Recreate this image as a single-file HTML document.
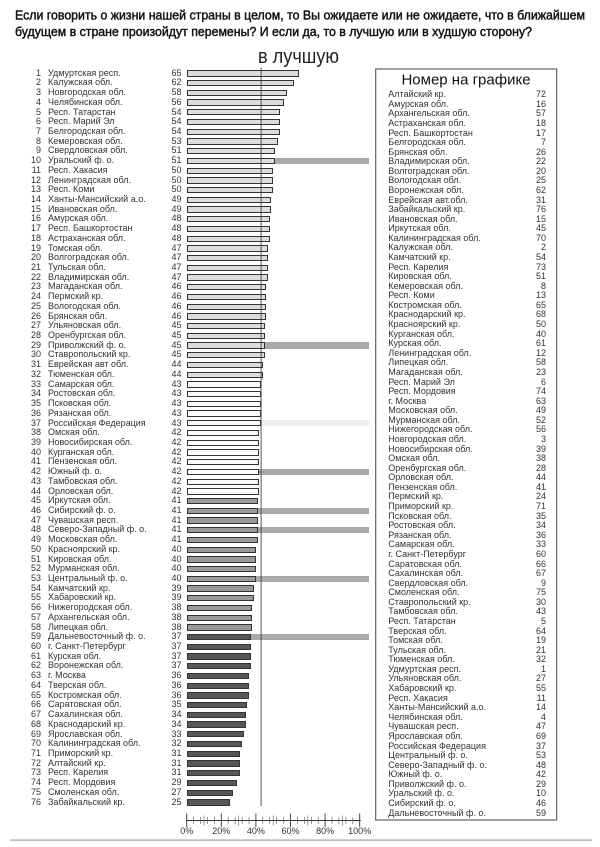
<!DOCTYPE html>
<html>
<head>
<meta charset="utf-8">
<style>
html,body{margin:0;padding:0;background:#fff;}
#p{position:relative;width:600px;height:847px;overflow:hidden;background:#fff;font-family:"Liberation Sans","DejaVu Sans",sans-serif;color:#333;}
#L{position:absolute;left:0;top:68.64px;width:600px;}
.r{position:relative;height:9.72px;line-height:9.72px;font-size:9px;white-space:nowrap;}
.r span{position:absolute;top:0;}
.n{left:0;width:41px;text-align:right;}
.t{left:48px;}
.v{left:150px;width:31.5px;text-align:right;}
.b{left:186.7px;top:1.7px!important;height:6.3px;width:calc(var(--v)*1.73px);box-sizing:border-box;border:1px solid #333;}
.h{left:calc(186.7px + var(--v)*1.73px);top:1.7px!important;height:6.3px;width:calc(182.3px - var(--v)*1.73px);background:#aaa;}
.rf .h{background:#eeeeee;}
.a .b{background:#dcdcdc;}
.w .b{background:#fbfbfb;}
.m .b{background:#999;}
.d .b{background:#575757;}
#R{position:absolute;left:0;top:90.2px;width:600px;}
.q{position:relative;height:9.587px;line-height:9.587px;font-size:9px;white-space:nowrap;}
.q span{position:absolute;top:0;}
.q .k{left:388.3px;}
.q .x{left:500px;width:46px;text-align:right;}
svg{position:absolute;left:0;top:0;}
</style>
</head>
<body>
<div id="p">
<div id="L">
<div class="r a" style="--v:65"><span class="n">1</span><span class="t">Удмуртская респ.</span><span class="v">65</span><span class="b"></span></div>
<div class="r a" style="--v:62"><span class="n">2</span><span class="t">Калужская обл.</span><span class="v">62</span><span class="b"></span></div>
<div class="r a" style="--v:58"><span class="n">3</span><span class="t">Новгородская обл.</span><span class="v">58</span><span class="b"></span></div>
<div class="r a" style="--v:56"><span class="n">4</span><span class="t">Челябинская обл.</span><span class="v">56</span><span class="b"></span></div>
<div class="r a" style="--v:54"><span class="n">5</span><span class="t">Респ. Татарстан</span><span class="v">54</span><span class="b"></span></div>
<div class="r a" style="--v:54"><span class="n">6</span><span class="t">Респ. Марий Эл</span><span class="v">54</span><span class="b"></span></div>
<div class="r a" style="--v:54"><span class="n">7</span><span class="t">Белгородская обл.</span><span class="v">54</span><span class="b"></span></div>
<div class="r a" style="--v:53"><span class="n">8</span><span class="t">Кемеровская обл.</span><span class="v">53</span><span class="b"></span></div>
<div class="r a" style="--v:51"><span class="n">9</span><span class="t">Свердловская обл.</span><span class="v">51</span><span class="b"></span></div>
<div class="r a" style="--v:51"><span class="n">10</span><span class="t">Уральский ф. о.</span><span class="v">51</span><span class="b"></span><span class="h"></span></div>
<div class="r a" style="--v:50"><span class="n">11</span><span class="t">Респ. Хакасия</span><span class="v">50</span><span class="b"></span></div>
<div class="r a" style="--v:50"><span class="n">12</span><span class="t">Ленинградская обл.</span><span class="v">50</span><span class="b"></span></div>
<div class="r a" style="--v:50"><span class="n">13</span><span class="t">Респ. Коми</span><span class="v">50</span><span class="b"></span></div>
<div class="r a" style="--v:49"><span class="n">14</span><span class="t">Ханты-Мансийский а.о.</span><span class="v">49</span><span class="b"></span></div>
<div class="r a" style="--v:49"><span class="n">15</span><span class="t">Ивановская обл.</span><span class="v">49</span><span class="b"></span></div>
<div class="r a" style="--v:48"><span class="n">16</span><span class="t">Амурская обл.</span><span class="v">48</span><span class="b"></span></div>
<div class="r a" style="--v:48"><span class="n">17</span><span class="t">Респ. Башкортостан</span><span class="v">48</span><span class="b"></span></div>
<div class="r a" style="--v:48"><span class="n">18</span><span class="t">Астраханская обл.</span><span class="v">48</span><span class="b"></span></div>
<div class="r a" style="--v:47"><span class="n">19</span><span class="t">Томская обл.</span><span class="v">47</span><span class="b"></span></div>
<div class="r a" style="--v:47"><span class="n">20</span><span class="t">Волгоградская обл.</span><span class="v">47</span><span class="b"></span></div>
<div class="r a" style="--v:47"><span class="n">21</span><span class="t">Тульская обл.</span><span class="v">47</span><span class="b"></span></div>
<div class="r a" style="--v:47"><span class="n">22</span><span class="t">Владимирская обл.</span><span class="v">47</span><span class="b"></span></div>
<div class="r a" style="--v:46"><span class="n">23</span><span class="t">Магаданская обл.</span><span class="v">46</span><span class="b"></span></div>
<div class="r a" style="--v:46"><span class="n">24</span><span class="t">Пермский кр.</span><span class="v">46</span><span class="b"></span></div>
<div class="r a" style="--v:46"><span class="n">25</span><span class="t">Вологодская обл.</span><span class="v">46</span><span class="b"></span></div>
<div class="r a" style="--v:46"><span class="n">26</span><span class="t">Брянская обл.</span><span class="v">46</span><span class="b"></span></div>
<div class="r a" style="--v:45"><span class="n">27</span><span class="t">Ульяновская обл.</span><span class="v">45</span><span class="b"></span></div>
<div class="r a" style="--v:45"><span class="n">28</span><span class="t">Оренбургская обл.</span><span class="v">45</span><span class="b"></span></div>
<div class="r a" style="--v:45"><span class="n">29</span><span class="t">Приволжский ф. о.</span><span class="v">45</span><span class="b"></span><span class="h"></span></div>
<div class="r a" style="--v:45"><span class="n">30</span><span class="t">Ставропольский кр.</span><span class="v">45</span><span class="b"></span></div>
<div class="r a" style="--v:44"><span class="n">31</span><span class="t">Еврейская авт обл.</span><span class="v">44</span><span class="b"></span></div>
<div class="r a" style="--v:44"><span class="n">32</span><span class="t">Тюменская обл.</span><span class="v">44</span><span class="b"></span></div>
<div class="r w" style="--v:43"><span class="n">33</span><span class="t">Самарская обл.</span><span class="v">43</span><span class="b"></span></div>
<div class="r w" style="--v:43"><span class="n">34</span><span class="t">Ростовская обл.</span><span class="v">43</span><span class="b"></span></div>
<div class="r w" style="--v:43"><span class="n">35</span><span class="t">Псковская обл.</span><span class="v">43</span><span class="b"></span></div>
<div class="r w" style="--v:43"><span class="n">36</span><span class="t">Рязанская обл.</span><span class="v">43</span><span class="b"></span></div>
<div class="r w rf" style="--v:43"><span class="n">37</span><span class="t">Российская Федерация</span><span class="v">43</span><span class="b"></span><span class="h"></span></div>
<div class="r w" style="--v:42"><span class="n">38</span><span class="t">Омская обл.</span><span class="v">42</span><span class="b"></span></div>
<div class="r w" style="--v:42"><span class="n">39</span><span class="t">Новосибирская обл.</span><span class="v">42</span><span class="b"></span></div>
<div class="r w" style="--v:42"><span class="n">40</span><span class="t">Курганская обл.</span><span class="v">42</span><span class="b"></span></div>
<div class="r w" style="--v:42"><span class="n">41</span><span class="t">Пензенская обл.</span><span class="v">42</span><span class="b"></span></div>
<div class="r w" style="--v:42"><span class="n">42</span><span class="t">Южный ф. о.</span><span class="v">42</span><span class="b"></span><span class="h"></span></div>
<div class="r w" style="--v:42"><span class="n">43</span><span class="t">Тамбовская обл.</span><span class="v">42</span><span class="b"></span></div>
<div class="r w" style="--v:42"><span class="n">44</span><span class="t">Орловская обл.</span><span class="v">42</span><span class="b"></span></div>
<div class="r m" style="--v:41"><span class="n">45</span><span class="t">Иркутская обл.</span><span class="v">41</span><span class="b"></span></div>
<div class="r m" style="--v:41"><span class="n">46</span><span class="t">Сибирский ф. о.</span><span class="v">41</span><span class="b"></span><span class="h"></span></div>
<div class="r m" style="--v:41"><span class="n">47</span><span class="t">Чувашская респ.</span><span class="v">41</span><span class="b"></span></div>
<div class="r m" style="--v:41"><span class="n">48</span><span class="t">Северо-Западный ф. о.</span><span class="v">41</span><span class="b"></span><span class="h"></span></div>
<div class="r m" style="--v:41"><span class="n">49</span><span class="t">Московская обл.</span><span class="v">41</span><span class="b"></span></div>
<div class="r m" style="--v:40"><span class="n">50</span><span class="t">Красноярский кр.</span><span class="v">40</span><span class="b"></span></div>
<div class="r m" style="--v:40"><span class="n">51</span><span class="t">Кировская обл.</span><span class="v">40</span><span class="b"></span></div>
<div class="r m" style="--v:40"><span class="n">52</span><span class="t">Мурманская обл.</span><span class="v">40</span><span class="b"></span></div>
<div class="r m" style="--v:40"><span class="n">53</span><span class="t">Центральный ф. о.</span><span class="v">40</span><span class="b"></span><span class="h"></span></div>
<div class="r m" style="--v:39"><span class="n">54</span><span class="t">Камчатский кр.</span><span class="v">39</span><span class="b"></span></div>
<div class="r m" style="--v:39"><span class="n">55</span><span class="t">Хабаровский кр.</span><span class="v">39</span><span class="b"></span></div>
<div class="r m" style="--v:38"><span class="n">56</span><span class="t">Нижегородская обл.</span><span class="v">38</span><span class="b"></span></div>
<div class="r m" style="--v:38"><span class="n">57</span><span class="t">Архангельская обл.</span><span class="v">38</span><span class="b"></span></div>
<div class="r m" style="--v:38"><span class="n">58</span><span class="t">Липецкая обл.</span><span class="v">38</span><span class="b"></span></div>
<div class="r d" style="--v:37"><span class="n">59</span><span class="t">Дальневосточный ф. о.</span><span class="v">37</span><span class="b"></span><span class="h"></span></div>
<div class="r d" style="--v:37"><span class="n">60</span><span class="t">г. Санкт-Петербург</span><span class="v">37</span><span class="b"></span></div>
<div class="r d" style="--v:37"><span class="n">61</span><span class="t">Курская обл.</span><span class="v">37</span><span class="b"></span></div>
<div class="r d" style="--v:37"><span class="n">62</span><span class="t">Воронежская обл.</span><span class="v">37</span><span class="b"></span></div>
<div class="r d" style="--v:36"><span class="n">63</span><span class="t">г. Москва</span><span class="v">36</span><span class="b"></span></div>
<div class="r d" style="--v:36"><span class="n">64</span><span class="t">Тверская обл.</span><span class="v">36</span><span class="b"></span></div>
<div class="r d" style="--v:36"><span class="n">65</span><span class="t">Костромская обл.</span><span class="v">36</span><span class="b"></span></div>
<div class="r d" style="--v:35"><span class="n">66</span><span class="t">Саратовская обл.</span><span class="v">35</span><span class="b"></span></div>
<div class="r d" style="--v:34"><span class="n">67</span><span class="t">Сахалинская обл.</span><span class="v">34</span><span class="b"></span></div>
<div class="r d" style="--v:34"><span class="n">68</span><span class="t">Краснодарский кр.</span><span class="v">34</span><span class="b"></span></div>
<div class="r d" style="--v:33"><span class="n">69</span><span class="t">Ярославская обл.</span><span class="v">33</span><span class="b"></span></div>
<div class="r d" style="--v:32"><span class="n">70</span><span class="t">Калининградская обл.</span><span class="v">32</span><span class="b"></span></div>
<div class="r d" style="--v:31"><span class="n">71</span><span class="t">Приморский кр.</span><span class="v">31</span><span class="b"></span></div>
<div class="r d" style="--v:31"><span class="n">72</span><span class="t">Алтайский кр.</span><span class="v">31</span><span class="b"></span></div>
<div class="r d" style="--v:31"><span class="n">73</span><span class="t">Респ. Карелия</span><span class="v">31</span><span class="b"></span></div>
<div class="r d" style="--v:29"><span class="n">74</span><span class="t">Респ. Мордовия</span><span class="v">29</span><span class="b"></span></div>
<div class="r d" style="--v:27"><span class="n">75</span><span class="t">Смоленская обл.</span><span class="v">27</span><span class="b"></span></div>
<div class="r d" style="--v:25"><span class="n">76</span><span class="t">Забайкальский кр.</span><span class="v">25</span><span class="b"></span></div>
</div>

<div id="R">
<div class="q"><span class="k">Алтайский кр.</span><span class="x">72</span></div>
<div class="q"><span class="k">Амурская обл.</span><span class="x">16</span></div>
<div class="q"><span class="k">Архангельская обл.</span><span class="x">57</span></div>
<div class="q"><span class="k">Астраханская обл.</span><span class="x">18</span></div>
<div class="q"><span class="k">Респ. Башкортостан</span><span class="x">17</span></div>
<div class="q"><span class="k">Белгородская обл.</span><span class="x">7</span></div>
<div class="q"><span class="k">Брянская обл.</span><span class="x">26</span></div>
<div class="q"><span class="k">Владимирская обл.</span><span class="x">22</span></div>
<div class="q"><span class="k">Волгоградская обл.</span><span class="x">20</span></div>
<div class="q"><span class="k">Вологодская обл.</span><span class="x">25</span></div>
<div class="q"><span class="k">Воронежская обл.</span><span class="x">62</span></div>
<div class="q"><span class="k">Еврейская авт.обл.</span><span class="x">31</span></div>
<div class="q"><span class="k">Забайкальский кр.</span><span class="x">76</span></div>
<div class="q"><span class="k">Ивановская обл.</span><span class="x">15</span></div>
<div class="q"><span class="k">Иркутская обл.</span><span class="x">45</span></div>
<div class="q"><span class="k">Калининградская обл.</span><span class="x">70</span></div>
<div class="q"><span class="k">Калужская обл.</span><span class="x">2</span></div>
<div class="q"><span class="k">Камчатский кр.</span><span class="x">54</span></div>
<div class="q"><span class="k">Респ. Карелия</span><span class="x">73</span></div>
<div class="q"><span class="k">Кировская обл.</span><span class="x">51</span></div>
<div class="q"><span class="k">Кемеровская обл.</span><span class="x">8</span></div>
<div class="q"><span class="k">Респ. Коми</span><span class="x">13</span></div>
<div class="q"><span class="k">Костромская обл.</span><span class="x">65</span></div>
<div class="q"><span class="k">Краснодарский кр.</span><span class="x">68</span></div>
<div class="q"><span class="k">Красноярский кр.</span><span class="x">50</span></div>
<div class="q"><span class="k">Курганская обл.</span><span class="x">40</span></div>
<div class="q"><span class="k">Курская обл.</span><span class="x">61</span></div>
<div class="q"><span class="k">Ленинградская обл.</span><span class="x">12</span></div>
<div class="q"><span class="k">Липецкая обл.</span><span class="x">58</span></div>
<div class="q"><span class="k">Магаданская обл.</span><span class="x">23</span></div>
<div class="q"><span class="k">Респ. Марий Эл</span><span class="x">6</span></div>
<div class="q"><span class="k">Респ. Мордовия</span><span class="x">74</span></div>
<div class="q"><span class="k">г. Москва</span><span class="x">63</span></div>
<div class="q"><span class="k">Московская обл.</span><span class="x">49</span></div>
<div class="q"><span class="k">Мурманская обл.</span><span class="x">52</span></div>
<div class="q"><span class="k">Нижегородская обл.</span><span class="x">56</span></div>
<div class="q"><span class="k">Новгородская обл.</span><span class="x">3</span></div>
<div class="q"><span class="k">Новосибирская обл.</span><span class="x">39</span></div>
<div class="q"><span class="k">Омская обл.</span><span class="x">38</span></div>
<div class="q"><span class="k">Оренбургская обл.</span><span class="x">28</span></div>
<div class="q"><span class="k">Орловская обл.</span><span class="x">44</span></div>
<div class="q"><span class="k">Пензенская обл.</span><span class="x">41</span></div>
<div class="q"><span class="k">Пермский кр.</span><span class="x">24</span></div>
<div class="q"><span class="k">Приморский кр.</span><span class="x">71</span></div>
<div class="q"><span class="k">Псковская обл.</span><span class="x">35</span></div>
<div class="q"><span class="k">Ростовская обл.</span><span class="x">34</span></div>
<div class="q"><span class="k">Рязанская обл.</span><span class="x">36</span></div>
<div class="q"><span class="k">Самарская обл.</span><span class="x">33</span></div>
<div class="q"><span class="k">г. Санкт-Петербург</span><span class="x">60</span></div>
<div class="q"><span class="k">Саратовская обл.</span><span class="x">66</span></div>
<div class="q"><span class="k">Сахалинская обл.</span><span class="x">67</span></div>
<div class="q"><span class="k">Свердловская обл.</span><span class="x">9</span></div>
<div class="q"><span class="k">Смоленская обл.</span><span class="x">75</span></div>
<div class="q"><span class="k">Ставропольский кр.</span><span class="x">30</span></div>
<div class="q"><span class="k">Тамбовская обл.</span><span class="x">43</span></div>
<div class="q"><span class="k">Респ. Татарстан</span><span class="x">5</span></div>
<div class="q"><span class="k">Тверская обл.</span><span class="x">64</span></div>
<div class="q"><span class="k">Томская обл.</span><span class="x">19</span></div>
<div class="q"><span class="k">Тульская обл.</span><span class="x">21</span></div>
<div class="q"><span class="k">Тюменская обл.</span><span class="x">32</span></div>
<div class="q"><span class="k">Удмуртская респ.</span><span class="x">1</span></div>
<div class="q"><span class="k">Ульяновская обл.</span><span class="x">27</span></div>
<div class="q"><span class="k">Хабаровский кр.</span><span class="x">55</span></div>
<div class="q"><span class="k">Респ. Хакасия</span><span class="x">11</span></div>
<div class="q"><span class="k">Ханты-Мансийский а.о.</span><span class="x">14</span></div>
<div class="q"><span class="k">Челябинская обл.</span><span class="x">4</span></div>
<div class="q"><span class="k">Чувашская респ.</span><span class="x">47</span></div>
<div class="q"><span class="k">Ярославская обл.</span><span class="x">69</span></div>
<div class="q"><span class="k">Российская Федерация</span><span class="x">37</span></div>
<div class="q"><span class="k">Центральный ф. о.</span><span class="x">53</span></div>
<div class="q"><span class="k">Северо-Западный ф. о.</span><span class="x">48</span></div>
<div class="q"><span class="k">Южный ф. о.</span><span class="x">42</span></div>
<div class="q"><span class="k">Приволжский ф. о.</span><span class="x">29</span></div>
<div class="q"><span class="k">Уральский ф. о.</span><span class="x">10</span></div>
<div class="q"><span class="k">Сибирский ф. о.</span><span class="x">46</span></div>
<div class="q"><span class="k">Дальневосточный ф. о.</span><span class="x">59</span></div>
</div>

<svg width="600" height="847" viewBox="0 0 600 847" xmlns="http://www.w3.org/2000/svg">
  <g font-family="Liberation Sans Narrow, Liberation Sans, sans-serif" fill="#111" stroke="#111" stroke-width="0.45">
    <text x="15" y="19.3" font-size="12.8" textLength="570" lengthAdjust="spacingAndGlyphs">Если говорить о жизни нашей страны в целом, то Вы ожидаете или не ожидаете, что в ближайшем</text>
    <text x="15" y="36.2" font-size="12.8" textLength="517" lengthAdjust="spacingAndGlyphs">будущем в стране произойдут перемены? И если да, то в лучшую или в худшую сторону?</text>
  </g>
  <text x="258" y="63" font-family="Liberation Sans, sans-serif" font-size="20.5" fill="#222" textLength="81" lengthAdjust="spacingAndGlyphs">в лучшую</text>

  <line x1="261.1" y1="67.5" x2="261.1" y2="806" stroke="#444" stroke-width="0.9"/>

  <rect x="375.7" y="69" width="181" height="751" fill="none" stroke="#555" stroke-width="1.1"/>
  <text x="466" y="84.5" text-anchor="middle" font-family="Liberation Sans, sans-serif" font-size="15" fill="#111">Номер на графике</text>

  <g stroke="#333" stroke-width="0.9">
    <line x1="186.7" y1="820.5" x2="360.7" y2="820.5"/>
    <line x1="186.7" y1="813.5" x2="186.7" y2="827"/>
    <line x1="221.3" y1="813.5" x2="221.3" y2="827"/>
    <line x1="255.9" y1="813.5" x2="255.9" y2="827"/>
    <line x1="290.5" y1="813.5" x2="290.5" y2="827"/>
    <line x1="325.1" y1="813.5" x2="325.1" y2="827"/>
    <line x1="359.7" y1="813.5" x2="359.7" y2="827"/>
  </g>
  <g stroke="#555" stroke-width="0.6">
    <line x1="193.6" y1="817" x2="193.6" y2="824"/>
    <line x1="200.5" y1="817" x2="200.5" y2="824"/>
    <line x1="204" y1="815.5" x2="204" y2="825.5"/>
    <line x1="207.5" y1="817" x2="207.5" y2="824"/>
    <line x1="214.4" y1="817" x2="214.4" y2="824"/>
    <line x1="228.2" y1="817" x2="228.2" y2="824"/>
    <line x1="235.1" y1="817" x2="235.1" y2="824"/>
    <line x1="238.6" y1="815.5" x2="238.6" y2="825.5"/>
    <line x1="242.1" y1="817" x2="242.1" y2="824"/>
    <line x1="249" y1="817" x2="249" y2="824"/>
    <line x1="262.8" y1="817" x2="262.8" y2="824"/>
    <line x1="269.7" y1="817" x2="269.7" y2="824"/>
    <line x1="273.2" y1="815.5" x2="273.2" y2="825.5"/>
    <line x1="276.7" y1="817" x2="276.7" y2="824"/>
    <line x1="283.6" y1="817" x2="283.6" y2="824"/>
    <line x1="297.4" y1="817" x2="297.4" y2="824"/>
    <line x1="304.3" y1="817" x2="304.3" y2="824"/>
    <line x1="307.8" y1="815.5" x2="307.8" y2="825.5"/>
    <line x1="311.3" y1="817" x2="311.3" y2="824"/>
    <line x1="318.2" y1="817" x2="318.2" y2="824"/>
    <line x1="332" y1="817" x2="332" y2="824"/>
    <line x1="338.9" y1="817" x2="338.9" y2="824"/>
    <line x1="342.4" y1="815.5" x2="342.4" y2="825.5"/>
    <line x1="345.9" y1="817" x2="345.9" y2="824"/>
    <line x1="352.8" y1="817" x2="352.8" y2="824"/>
  </g>
  <g font-family="Liberation Sans, sans-serif" font-size="9" fill="#333" text-anchor="middle">
    <text x="186.7" y="834">0%</text>
    <text x="221.3" y="834">20%</text>
    <text x="255.9" y="834">40%</text>
    <text x="290.5" y="834">60%</text>
    <text x="325.1" y="834">80%</text>
    <text x="359.7" y="834">100%</text>
  </g>

  <rect x="10" y="839.3" width="582" height="1.8" fill="#bbb"/>
</svg>
</div>
</body>
</html>
